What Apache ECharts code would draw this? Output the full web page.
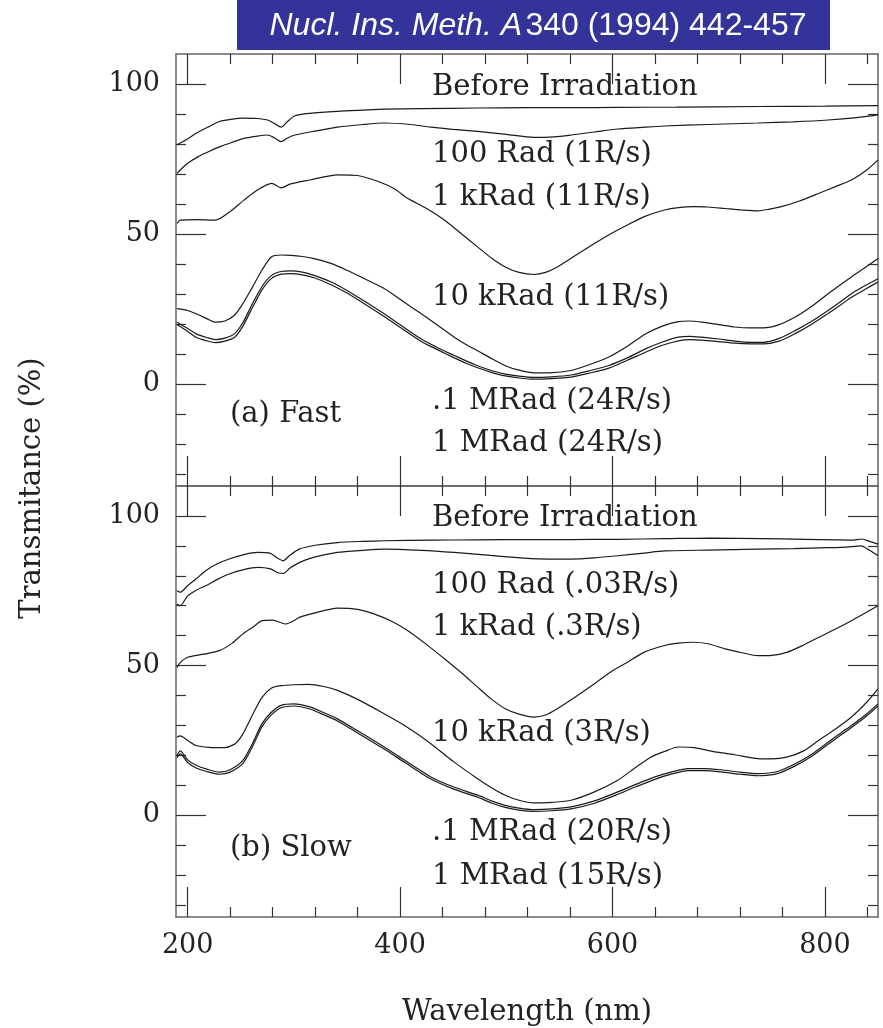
<!DOCTYPE html>
<html>
<head>
<meta charset="utf-8">
<script src="https://cdn.jsdelivr.net/npm/echarts@6/dist/echarts.min.js"></script>
<style>html,body{margin:0;padding:0;background:#fff;}#c{width:883px;height:1028px;}</style>
</head>
<body>
<div id="c"></div>
<script>
// ---------- data ----------
const xMajor = [200, 400, 600, 800];
const xMinor = [240, 280, 320, 360, 440, 480, 520, 560, 640, 680, 720, 760, 840];
const yMajor = [0, 50, 100];
const yMinor = [-30, -20, -10, 10, 20, 30, 40, 60, 70, 80, 90];

// Panel (a) Fast
const wlA_before = [190,199,208,220,230,242,252,265,275,282,288,294,301,315,341,365,385,420,473,520,560,605,660,737,800,850];
const A_before   = [79.7,81.5,83.6,85.8,87.5,88.3,88.6,88.5,88.0,86.8,85.6,87.5,89.4,90.2,90.9,91.3,91.6,91.8,92.0,92.1,92.1,92.2,92.3,92.5,92.6,92.8];

const wlA_100 = [190,195,200,210,220,231,242,253,265,275,282,288,294,301,320,341,365,385,410,429,450,473,500,526,545,561,583,605,630,649,690,737,770,803,830,850];
const A_100   = [70.2,72.0,73.6,75.8,77.5,79.2,80.6,81.9,82.6,83.0,82.0,80.8,82.0,83.0,84.3,85.6,86.5,87.0,86.5,85.6,84.9,84.2,83.2,82.2,82.4,83.0,84.0,85.0,85.6,86.0,86.5,87.0,87.4,88.0,88.8,89.7];

const wlA_1k = [190,193,210,226,240,253,265,279,288,297,315,341,360,380,395,407,425,442,458,473,486,499,512,526,537,548,565,583,598,614,630,649,662,676,690,706,722,737,748,759,776,794,810,825,840,850];
const A_1k   = [53.5,54.6,54.8,54.6,57.5,61.3,64.5,66.9,65.4,66.7,68.0,69.7,69.5,67.4,65.0,61.9,58.5,54.6,50.0,45.7,42.0,39.0,37.2,36.5,37.2,39.0,42.8,46.8,50.0,53.0,55.8,58.0,58.8,59.1,59.0,58.5,58.0,57.7,58.3,59.1,61.0,63.5,65.8,68.0,71.5,74.7];

const wlA_low = [190,200,208,218,226,235,244,252,261,270,279,288,297,308,319,335,350,367,385,403,420,436,451,462,473,486,499,512,526,543,561,578,596,614,631,647,662,673,684,700,715,730,742,757,772,788,803,815,825,838,850];
const A_10k   = [25.1,24.5,23.4,21.8,20.6,21.0,22.9,26.8,32.3,38.0,42.4,43.0,42.9,42.5,41.8,40.2,37.9,35.0,31.8,27.5,23.4,19.4,15.6,13.2,11.1,8.5,6.1,4.6,3.7,3.8,4.5,6.4,8.9,12.6,16.7,19.3,20.8,21.0,20.6,19.8,19.0,18.7,18.7,19.8,22.3,26.0,30.1,33.2,35.7,38.8,41.8];
const A_100k  = [20.6,18.5,16.7,15.5,14.8,15.3,16.7,20.5,26.8,32.5,36.2,37.5,37.7,37.3,36.2,34.0,31.2,27.5,23.4,19.0,15.0,12.0,9.5,7.7,6.1,4.5,3.3,2.6,2.2,2.4,3.0,4.4,6.1,8.7,11.7,14.0,15.6,15.9,15.6,15.0,14.3,13.9,13.9,15.2,17.8,21.0,24.5,27.5,30.1,32.8,35.1];
const A_1M    = [19.8,17.5,15.5,14.4,13.8,14.3,15.5,19.3,25.5,31.4,35.2,36.6,36.8,36.4,35.4,33.1,30.3,26.6,22.5,18.2,14.2,11.3,8.7,6.9,5.4,3.9,2.7,2.0,1.6,1.8,2.3,3.6,5.2,7.9,10.6,12.9,14.4,14.8,14.6,14.1,13.6,13.4,13.4,14.3,16.8,20.0,23.5,26.4,28.9,31.6,34.0];

// Panel (b) Slow
const wlB_before = [190,193,200,208,217,228,239,252,266,278,284,290,296,305,320,341,365,385,430,473,520,560,605,650,693,740,781,810,825,835,842,850];
const B_before   = [75.0,74.5,76.7,79.0,81.7,84.0,85.6,87.0,87.8,87.5,86.0,85.0,86.8,88.9,90.2,91.1,91.5,91.7,91.9,92.0,92.1,92.1,92.2,92.4,92.6,92.4,92.2,92.0,91.9,92.3,91.5,90.6];

const wlB_100 = [190,193,200,208,217,228,239,252,266,278,285,290,296,305,320,341,365,385,420,451,485,517,540,561,583,605,630,649,690,737,770,803,820,834,842,850];
const B_100   = [70.6,70.0,73.3,75.2,76.7,78.8,80.6,82.0,82.8,82.3,81.0,80.8,82.5,84.4,86.3,87.8,88.5,88.9,88.5,87.8,86.8,85.9,85.6,85.6,86.0,86.7,87.6,88.3,88.6,88.9,89.1,89.4,89.6,90.0,88.5,86.7];

const wlB_1k = [190,193,200,215,230,242,252,262,270,280,292,300,305,320,341,360,376,392,407,425,442,458,473,486,499,512,526,537,548,565,583,598,614,630,649,662,676,690,706,722,737,750,764,779,794,810,825,840,850];
const B_1k   = [49.4,51.0,52.8,53.8,55.0,57.5,60.6,63.0,65.0,65.2,63.9,65.0,66.1,67.6,69.2,68.8,67.2,64.8,61.7,57.0,52.2,47.5,42.8,38.8,35.6,33.8,32.8,33.5,35.6,39.5,43.9,47.8,51.1,54.5,56.7,57.5,57.8,57.3,55.6,54.3,53.3,53.4,54.4,56.7,59.4,62.2,65.0,68.0,70.0];

const wlB_10k = [190,193,200,208,220,235,245,252,261,270,279,288,300,314,328,341,360,385,405,429,450,473,486,499,512,526,543,561,583,605,620,636,649,662,677,693,715,737,750,764,780,794,810,825,840,850];
const B_10k   = [26.1,26.5,25.0,23.3,22.7,22.6,24.0,27.2,33.5,39.4,42.5,43.3,43.6,43.7,43.0,41.7,38.7,33.9,29.8,23.9,18.0,12.2,9.2,6.7,5.0,4.1,4.3,5.0,7.8,11.7,15.5,19.4,21.3,22.8,22.6,21.4,20.2,18.9,18.8,19.4,21.5,25.0,28.8,32.8,38.0,42.2];

const wlB_low = [190,193,200,208,218,230,240,252,261,270,279,288,300,315,328,341,360,385,405,429,450,473,486,499,512,526,543,561,583,605,622,640,656,671,686,702,720,737,755,772,788,803,815,825,838,850];
const B_100k  = [20.0,21.5,18.5,16.7,15.4,14.4,15.2,18.3,24.0,30.6,34.5,36.7,37.2,36.2,34.3,32.2,28.2,22.8,18.2,12.8,9.5,6.7,4.8,3.3,2.4,1.9,2.1,2.8,4.8,7.8,10.3,12.8,14.5,15.6,15.6,15.2,14.4,13.9,14.6,17.2,20.5,24.4,27.5,30.0,33.5,37.2];
const B_1M    = [19.2,20.5,17.6,15.8,14.6,13.7,14.4,17.3,22.9,29.6,33.6,35.9,36.5,35.5,33.6,31.5,27.5,22.1,17.5,12.1,8.8,6.0,4.1,2.6,1.7,1.3,1.5,2.1,4.0,7.0,9.5,12.0,13.8,14.9,14.9,14.5,13.7,13.2,13.9,16.5,19.8,23.7,26.8,29.3,32.8,36.5];

const labelsA = ['Before Irradiation', '100 Rad (1R/s)', '1 kRad (11R/s)', '10 kRad (11R/s)', '.1 MRad (24R/s)', '1 MRad (24R/s)'];
const labelsB = ['Before Irradiation', '100 Rad (.03R/s)', '1 kRad (.3R/s)', '10 kRad (3R/s)', '.1 MRad (20R/s)', '1 MRad (15R/s)'];
const panelNames = ['(a) Fast', '(b) Slow'];
const xTitle = 'Wavelength (nm)';
const yTitle = 'Transmitance (%)';
const citeItalic = 'Nucl. Ins. Meth. A';
const citeRest = '340 (1994) 442-457';

// ---------- chart ----------
const SERIF = 'DejaVu Serif';
const FRAME = '#666';
const TICK = '#333';
const XMIN = 189, XMAX = 850, YMIN = -34, YMAX = 110;

function pairs(xs, ys) { return xs.map((x, i) => [x, ys[i]]); }

const grids = [
  { left: 176, right: 5, top: 54, height: 432 },
  { left: 176, right: 5, top: 486, height: 431 }
];

const xAxes = [], yAxes = [];
for (let g = 0; g < 2; g++) {
  ['bottom', 'top'].forEach(pos => {
    [[xMajor, 30, true], [xMinor, 10, false]].forEach(([vals, len, isMajor]) => {
      xAxes.push({
        type: 'value', gridIndex: g, position: pos, min: XMIN, max: XMAX,
        axisLine: { show: isMajor, onZero: false, lineStyle: { color: FRAME, width: 1.5 } },
        axisTick: { show: true, inside: true, length: len, customValues: vals, lineStyle: { color: TICK, width: 1.2 } },
        axisLabel: { show: isMajor && pos === 'bottom' && g === 1, customValues: xMajor, margin: 15,
          fontFamily: SERIF, fontSize: 27, color: '#222' },
        splitLine: { show: false }
      });
    });
  });
  ['left', 'right'].forEach(pos => {
    [[yMajor, 30, true], [yMinor, 10, false]].forEach(([vals, len, isMajor]) => {
      yAxes.push({
        type: 'value', gridIndex: g, position: pos, min: YMIN, max: YMAX,
        axisLine: { show: isMajor, onZero: false, lineStyle: { color: FRAME, width: 1.5 } },
        axisTick: { show: true, inside: true, length: len, customValues: vals, lineStyle: { color: TICK, width: 1.2 } },
        axisLabel: { show: isMajor && pos === 'left', customValues: yMajor, margin: 16,
          fontFamily: SERIF, fontSize: 27, color: '#222' },
        splitLine: { show: false }
      });
    });
  });
}

function curve(g, xs, ys) {
  return {
    type: 'line', xAxisIndex: g * 4, yAxisIndex: g * 4, data: pairs(xs, ys),
    showSymbol: false, smooth: 0.25, animation: false,
    lineStyle: { color: '#1a1a1a', width: 1.2 }
  };
}

const series = [
  curve(0, wlA_before, A_before), curve(0, wlA_100, A_100), curve(0, wlA_1k, A_1k),
  curve(0, wlA_low, A_10k), curve(0, wlA_low, A_100k), curve(0, wlA_low, A_1M),
  curve(1, wlB_before, B_before), curve(1, wlB_100, B_100), curve(1, wlB_1k, B_1k),
  curve(1, wlB_10k, B_10k), curve(1, wlB_low, B_100k), curve(1, wlB_low, B_1M)
];

function txt(text, x, y, opts) {
  return Object.assign({
    type: 'text', x: x, y: y, silent: true,
    style: Object.assign({ text: text, fontFamily: SERIF, fontSize: 29, fill: '#222',
      textAlign: 'left', textVerticalAlign: 'middle' }, (opts && opts.style) || {})
  }, (opts && opts.el) || {});
}

const labYA = [87, 154, 197, 297, 401, 443];
const labYB = [518, 585, 627, 733, 832, 876];
const graphics = [
  { type: 'rect', shape: { x: 237, y: 0, width: 593, height: 50 }, style: { fill: '#333399' }, silent: true },
  { type: 'text', x: 538, y: 26, silent: true,
    style: { text: '{i|' + citeItalic + '} {n|' + citeRest + '}', textAlign: 'center', textVerticalAlign: 'middle',
      rich: { i: { fontFamily: 'Liberation Sans', fontStyle: 'italic', fontSize: 32, fill: '#fff', color: '#fff' },
              n: { fontFamily: 'Liberation Sans', fontSize: 32, fill: '#fff', color: '#fff' } } } },
  txt(xTitle, 527, 1012, { style: { textAlign: 'center', fontSize: 29 } }),
  txt(yTitle, 32, 488, { style: { textAlign: 'center', fontSize: 29 }, el: { rotation: Math.PI / 2 } }),
  txt(panelNames[0], 230, 414),
  txt(panelNames[1], 230, 848)
];
labelsA.forEach((t, i) => graphics.push(txt(t, 432, labYA[i])));
labelsB.forEach((t, i) => graphics.push(txt(t, 432, labYB[i])));

const chart = echarts.init(document.getElementById('c'), null, { renderer: 'canvas' });
chart.setOption({
  backgroundColor: '#fff',
  animation: false,
  grid: grids,
  xAxis: xAxes,
  yAxis: yAxes,
  series: series,
  graphic: graphics
});
</script>
</body>
</html>
